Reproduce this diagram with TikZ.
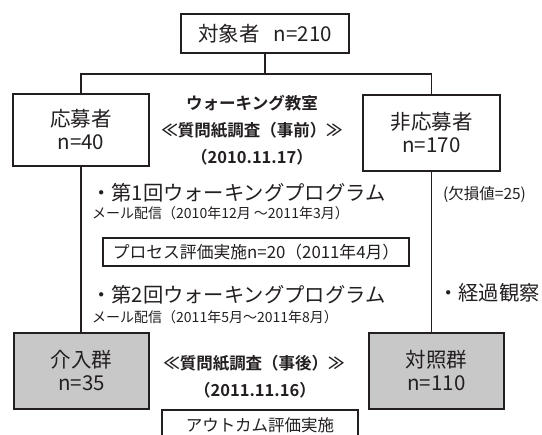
\documentclass[tikz,border=0pt]{standalone}
\usepackage{fontspec}
\setmainfont{Liberation Sans}
\newfontfamily\jp{Noto Sans CJK JP}[BoldFont={Noto Sans CJK JP Bold}]
\definecolor{ink}{RGB}{35,31,32}
\definecolor{boxgray}{RGB}{200,200,200}
\begin{document}
\begin{tikzpicture}[x=1pt,y=-1pt,
  box/.style={draw=ink,line width=1.3pt,align=center,inner sep=0pt,text=ink,
    font=\jp\fontsize{20.5}{23}\selectfont},
  graybox/.style={box,fill=boxgray},
  conn/.style={draw=ink,line width=1.9pt},
  lbl/.style={inner sep=0pt,text=ink,anchor=west},
  big/.style={lbl,font=\jp\fontsize{20.3}{22}\selectfont},
  small/.style={lbl,font=\jp\fontsize{14}{16}\selectfont},
  bold/.style={inner sep=0pt,text=ink,align=center,font=\jp\bfseries\fontsize{16.5}{27}\selectfont}]
\clip (0,0) rectangle (542,435);
\fill[white] (0,0) rectangle (542,435);
% boxes
\node[box,minimum width=168pt,minimum height=39pt] (top) at (265,33.5) {対象者\hspace{0.7em}n=210};
\node[box,minimum width=136pt,minimum height=72pt] (app) at (81,130) {応募者\\n=40};
\node[box,minimum width=137pt,minimum height=76pt] (nonapp) at (431.5,133) {非応募者\\n=170};
\node[graybox,minimum width=135pt,minimum height=76pt] (intv) at (81.5,371) {介入群\\n=35};
\node[graybox,minimum width=135pt,minimum height=76pt] (ctrl) at (436.5,371) {対照群\\n=110};
\node[box,minimum width=306pt,minimum height=28pt,font=\jp\fontsize{16.8}{19}\selectfont] (proc) at (256,252) {プロセス評価実施n=20（2011年4月）};
\node[box,minimum width=196pt,minimum height=30pt,font=\jp\fontsize{16.5}{19}\selectfont] (out) at (260,425) {アウトカム評価実施};
% texts
\node[bold] (pre) at (252,130) {ウォーキング教室\\≪質問紙調査（事前）≫\\（2010.11.17）};
\node[bold] (post1) at (254,363) {≪質問紙調査（事後）≫};
\node[bold] (post2) at (255,390) {（2011.11.16）};
\node[big] (p1) at (91,193) {・第1回ウォーキングプログラム};
\node[small] (m1) at (92,213) {メール配信（2010年12月 ～2011年3月）};
\node[big] (p2) at (91,295) {・第2回ウォーキングプログラム};
\node[small] (m2) at (92,317) {メール配信（2011年5月～2011年8月）};
\node[lbl,font=\jp\fontsize{15.5}{18}\selectfont] (miss) at (443,194) {(欠損値=25)};
\node[big] (obs) at (438,293) {・経過観察};
% connectors
\coordinate (j) at (265,74);
\draw[conn] (top.south) -- (j);
\draw[conn] (j) -| (app.north);
\draw[conn] (j) -| (nonapp.north);
\draw[conn] (app.south) -- (app.south |- intv.north);
\draw[conn] (nonapp.south) -- (nonapp.south |- ctrl.north);
\end{tikzpicture}
\end{document}
